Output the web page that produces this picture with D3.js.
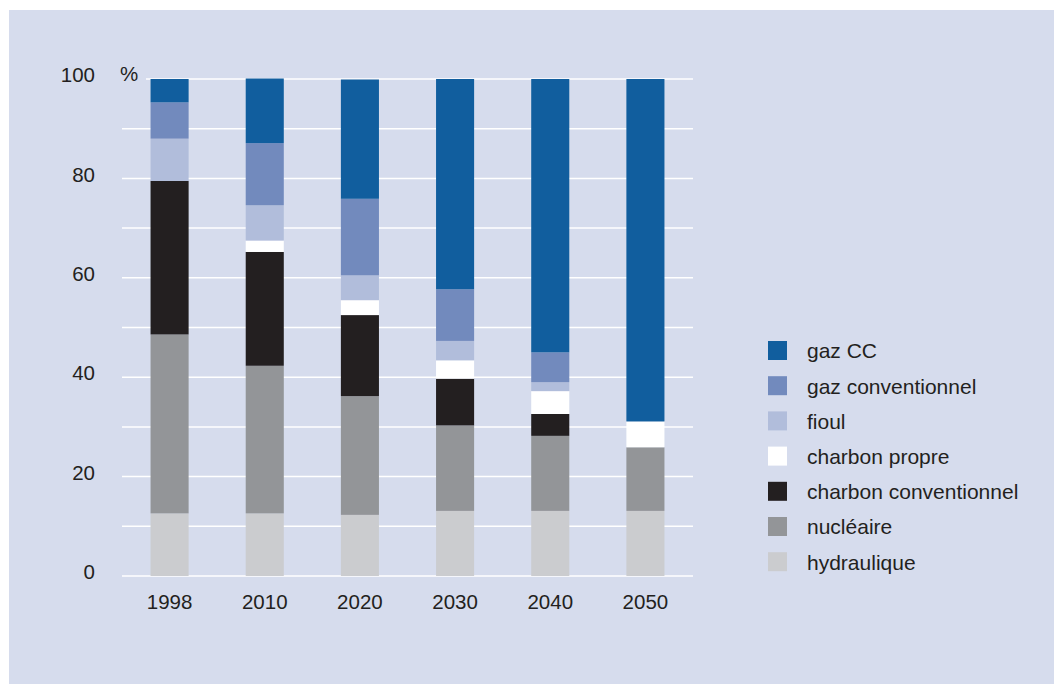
<!DOCTYPE html>
<html>
<head>
<meta charset="utf-8">
<script src="https://cdn.jsdelivr.net/npm/d3@7"></script>
<style>
  html, body { margin: 0; padding: 0; background: #ffffff; }
  svg { display: block; }
  text { font-family: "Liberation Sans", Arial, sans-serif; fill: #231f20; }
</style>
</head>
<body>
<svg id="chart" width="1054" height="684"></svg>
<script>
// Years on the x axis
const years = ["1998", "2010", "2020", "2030", "2040", "2050"];

// Share of each source in electricity production (%), bottom to top of each bar
const hydraulique          = [12.6, 12.6, 12.3, 13.1, 13.1, 13.1];
const nucleaire            = [36.0, 29.7, 23.9, 17.2, 15.1, 12.8];
const charbonConventionnel = [30.9, 22.9, 16.3,  9.4,  4.4,  0.0];
const charbonPropre        = [ 0.0,  2.3,  3.0,  3.7,  4.6,  5.2];
const fioul                = [ 8.5,  7.1,  5.0,  3.9,  1.8,  0.0];
const gazConventionnel     = [ 7.3, 12.5, 15.4, 10.4,  6.0,  0.0];
const gazCC                = [ 4.7, 13.0, 24.0, 42.3, 55.0, 68.9];

// Series labels (stack order) and colours
const seriesNames = ["hydraulique", "nucléaire", "charbon conventionnel", "charbon propre", "fioul", "gaz conventionnel", "gaz CC"];
const seriesValues = [hydraulique, nucleaire, charbonConventionnel, charbonPropre, fioul, gazConventionnel, gazCC];
const seriesColors = ["#cbcccf", "#939598", "#231f20", "#ffffff", "#b1bddb", "#728abd", "#115e9e"];

// Y axis ticks
const yTicks = [0, 20, 40, 60, 80, 100];
const gridTicks = [0, 10, 20, 30, 40, 50, 60, 70, 80, 90, 100];

const FONT = "'Liberation Sans', Arial, sans-serif";
const svg = d3.select("#chart");

// Panel background
svg.append("rect")
  .attr("x", 9).attr("y", 10)
  .attr("width", 1045).attr("height", 674)
  .attr("fill", "#d6dced");

const x = d3.scaleBand().domain(years).range([122, 693]).paddingInner(0.6).paddingOuter(0.3);
const y = d3.scaleLinear().domain([0, 100]).range([576, 79]);

// Horizontal white grid lines
svg.append("g").selectAll("line")
  .data(gridTicks)
  .join("line")
  .attr("x1", d => d === 100 ? 146 : 122)
  .attr("x2", 693)
  .attr("y1", d => y(d))
  .attr("y2", d => y(d))
  .attr("stroke", "#ffffff")
  .attr("stroke-width", 1.5);

// Stack the series
const rows = years.map((yr, i) => {
  const r = { year: yr };
  seriesNames.forEach((n, k) => { r[n] = seriesValues[k][i]; });
  return r;
});
const stacked = d3.stack().keys(seriesNames)(rows);

svg.append("g").selectAll("g")
  .data(stacked)
  .join("g")
  .attr("fill", (d, i) => seriesColors[i])
  .selectAll("rect")
  .data(d => d)
  .join("rect")
  .attr("x", d => x(d.data.year))
  .attr("width", x.bandwidth())
  .attr("y", d => y(d[1]))
  .attr("height", d => Math.max(0, y(d[0]) - y(d[1])));

// Y axis labels (sit slightly above their grid line)
const yAxis = d3.axisLeft(y).tickValues(yTicks).tickSize(0).tickPadding(0);
const gy = svg.append("g").attr("transform", "translate(95,-4.5)").call(yAxis);
gy.select(".domain").remove();
gy.selectAll("text")
  .style("font-size", "20.5px")
  .attr("fill", "#231f20")
  .style("font-family", FONT)
  .attr("dy", "0.35em");

svg.append("text")
  .attr("x", 120).attr("y", 81)
  .style("font-size", "20.5px")
  .text("%");

// X axis labels
const xAxis = d3.axisBottom(x).tickSize(0).tickPadding(0);
const gx = svg.append("g").attr("transform", "translate(0,608.5)").call(xAxis);
gx.select(".domain").remove();
gx.selectAll("text")
  .style("font-size", "20.5px")
  .attr("fill", "#231f20")
  .style("font-family", FONT)
  .attr("y", 0)
  .attr("dy", "0");

// Legend, top entry is the top of the stack
const legendItems = seriesNames.map((n, k) => ({ name: n, color: seriesColors[k] })).reverse();
const legend = svg.append("g").attr("transform", "translate(768,341)");
const li = legend.selectAll("g")
  .data(legendItems)
  .join("g")
  .attr("transform", (d, i) => `translate(0,${i * 35.2})`);
li.append("rect")
  .attr("width", 19).attr("height", 19)
  .attr("fill", d => d.color);
li.append("text")
  .attr("x", 39).attr("y", 10)
  .attr("dy", "0.35em")
  .style("font-size", "21px")
  .text(d => d.name);
</script>
</body>
</html>
